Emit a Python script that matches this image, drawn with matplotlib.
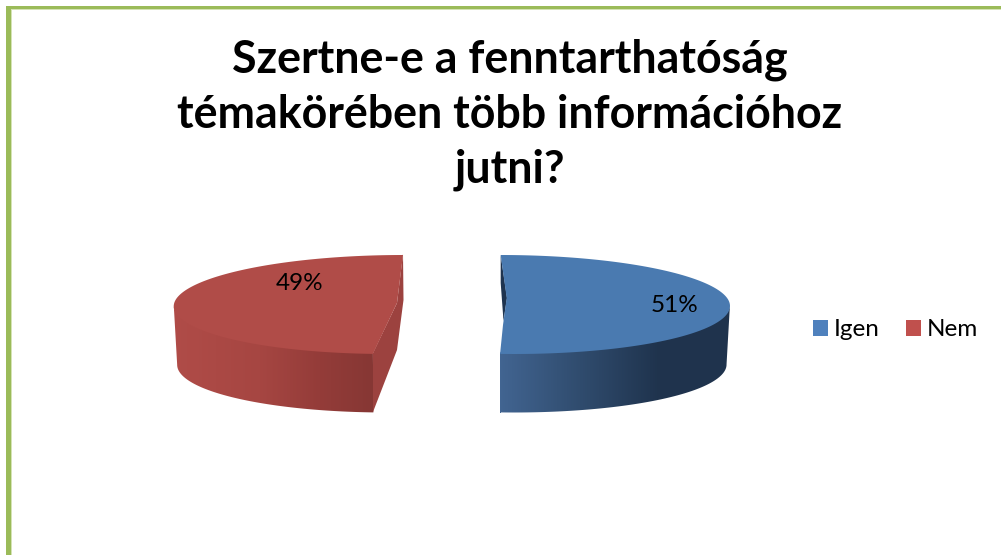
import matplotlib
matplotlib.use("Agg")
import matplotlib.pyplot as plt
import numpy as np
from matplotlib.patches import Patch, Polygon, Rectangle

title = "Szertne-e a fenntarthatóság\ntémakörében több információhoz\njutni?"
categories = ["Igen", "Nem"]
percents = [51, 49]

BLUE = "#4A7AB0"
RED = "#B04C48"
LEGEND_BLUE = "#4F81BD"
LEGEND_RED = "#C0504D"
GREEN = "#9BBB59"
DEPTH = 58.5


def rim(sweep, cx, rx, shear, cy=304.5, ry=49.5):
    # points on the rim of a tilted disc, angles from the top, clockwise
    t = np.radians(np.linspace(0, sweep, 300))
    x = cx + rx * np.sin(t) + shear * ry * (1 - np.cos(t))
    y = cy - ry * np.cos(t)
    return x, y


def side_face(ax, x, y, cx, start, xstops, cstops):
    # outer wall of the slice, shaded left to right
    xt, yt = x[start:], y[start:]
    xb = cx + (xt - cx) * 0.985
    yb = yt + DEPTH
    pts = np.r_[np.c_[xt, yt - 1.5], np.c_[xb, yb][::-1]]
    poly = Polygon(pts, closed=True, fc="none", ec="none", transform=ax.transData)
    ax.add_patch(poly)
    xs = np.arange(xstops[0], xstops[-1] + 1)
    cstops = np.array(cstops) / 255
    grad = np.stack([np.interp(xs, xstops, cstops[:, i]) for i in range(3)], axis=-1)[None, :, :]
    im = ax.imshow(grad, extent=[xs[0], xs[-1], 420, 250], aspect="auto", interpolation="bilinear", zorder=2)
    im.set_clip_path(poly)


fig = plt.figure(figsize=(10.01, 5.55), dpi=100)
ax = fig.add_axes([0, 0, 1, 1])
plt.rcParams["font.family"] = ["Lato", "DejaVu Sans"]

# frame
ax.add_patch(Rectangle((6, 6), 995, 3, fc=GREEN, ec="none"))
ax.add_patch(Rectangle((6, 6), 5.5, 549, fc=GREEN, ec="none"))
ax.add_patch(Rectangle((11.5, 9), 990, 0.6, fc="#D5E3B5", ec="none"))
ax.add_patch(Rectangle((11, 9), 0.8, 546, fc="#D5E3B5", ec="none"))

# Igen slice
x, y = rim(percents[0] * 3.6, 500.7, 222.5, 0.135)
side_face(ax, x, y, 500.7, np.argmax(x), [498, 580, 660, 735],
          [(66, 101, 146), (48, 76, 110), (31, 51, 77), (32, 52, 78)])
ax.add_patch(Polygon([(499.5, 353), (501, 353), (501, 413), (499.5, 413)], fc=(66 / 255, 101 / 255, 146 / 255), ec="none", zorder=2))
ax.add_patch(Polygon([(500.7, 255), (500.7, 283), (503.5, 321), (507, 298)], fc="#1F344F", ec="none", zorder=3))
top = np.r_[np.c_[x, y], [(503, 325), (506.7, 298)]]
ax.add_patch(Polygon(top, fc=BLUE, ec="none", zorder=4))

# Nem slice
x, y = rim(-percents[1] * 3.6, 403, 221, -0.164)
side_face(ax, x, y, 403, np.argmin(x), [172, 260, 320, 374],
          [(176, 76, 72), (166, 70, 66), (148, 60, 57), (134, 55, 52)])
inner = [(403, 254), (403.5, 300), (397, 350), (373, 412), (373, 353), (397, 303)]
ax.add_patch(Polygon(inner, fc="#9C423F", ec="none", zorder=3))
top = np.r_[np.c_[x, y], [(397, 303)]]
ax.add_patch(Polygon(top, fc=RED, ec="none", zorder=4))

ax.text(675, 305.5, f"{percents[0]}%", ha="center", va="center", fontsize=17.5, color="black", zorder=5)
ax.text(300, 283.5, f"{percents[1]}%", ha="center", va="center", fontsize=17.5, color="black", zorder=5)

ax.text(510, 115, title, ha="center", va="center", fontsize=32.2, fontweight="bold",
        color="black", linespacing=1.38, zorder=5)

handles = [Patch(fc=LEGEND_BLUE, ec="none"), Patch(fc=LEGEND_RED, ec="none")]
ax.legend(handles, categories, ncols=2, loc="center left", bbox_to_anchor=(813, 330),
          bbox_transform=ax.transData, frameon=False, fontsize=17.5, handlelength=0.62, handleheight=0.62,
          handletextpad=0.22, columnspacing=1.1, borderpad=0, borderaxespad=0)

ax.set_xlim(0, 1001)
ax.set_ylim(555, 0)
ax.axis("off")
fig.savefig("out.png", dpi=100)
